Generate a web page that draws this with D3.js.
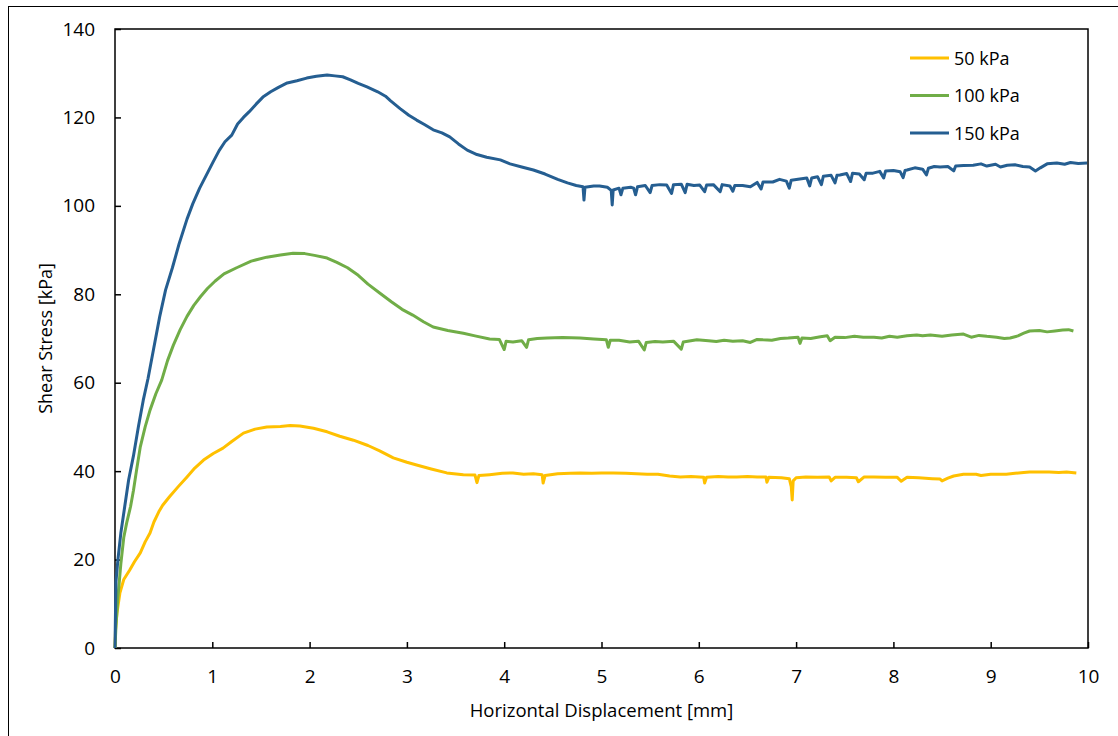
<!DOCTYPE html>
<html>
<head>
    <title>Shear stress vs horizontal displacement</title>
    <script src="https://cdnjs.cloudflare.com/ajax/libs/d3/7.8.5/d3.min.js"></script>
    <style>
        body { margin: 0; background: #fff; }
        text { font-family: 'Open Sans', 'Liberation Sans', sans-serif; fill: #000; }
    </style>
</head>
<body>
<div id="chart"></div>
<script>
//------------------------------------DATA--------------------------------
var seriesNames = ["50 kPa", "100 kPa", "150 kPa"];
var seriesColors = ["#FFC000", "#70AD47", "#255E91"];
var xTicks = [0, 1, 2, 3, 4, 5, 6, 7, 8, 9, 10];
var yTicks = [0, 20, 40, 60, 80, 100, 120, 140];

// 50 kPa  [displacement mm, shear stress kPa]
var s50 = [
 [0,0],[0.005,4],[0.02,7.9],[0.05,12.4],[0.09,15.5],[0.15,17.6],[0.2,19.5],[0.26,21.5],[0.31,24],[0.36,26],
 [0.4,28.5],[0.45,30.8],[0.49,32.3],[0.56,34.2],[0.65,36.5],[0.74,38.7],[0.82,40.7],[0.91,42.5],[1.01,44],[1.11,45.2],[1.2,46.7],
 [1.32,48.6],[1.44,49.5],[1.56,50],[1.7,50.1],[1.8,50.3],[1.9,50.2],[2.04,49.7],[2.18,48.9],[2.31,47.9],[2.45,47],
 [2.6,45.8],[2.72,44.6],[2.86,43],[3,42],[3.1,41.4],[3.25,40.5],[3.41,39.6],[3.58,39.2],[3.7,39.1],[3.72,37.4],
 [3.74,39],[3.85,39.2],[3.98,39.5],[4.09,39.6],[4.2,39.3],[4.3,39.4],[4.39,39.2],[4.4,37.3],[4.42,39],[4.55,39.4],
 [4.68,39.5],[4.78,39.6],[4.9,39.5],[5,39.6],[5.12,39.6],[5.25,39.5],[5.36,39.4],[5.47,39.3],[5.58,39.3],[5.7,38.9],
 [5.81,38.7],[5.92,38.8],[6.05,38.6],[6.06,37.3],[6.08,38.6],[6.2,38.8],[6.3,38.7],[6.39,38.7],[6.5,38.8],[6.6,38.7],
 [6.69,38.7],[6.7,37.5],[6.72,38.6],[6.85,38.5],[6.93,38.3],[6.95,36.5],[6.96,33.5],[6.97,37.8],[7,38.5],[7.1,38.7],
 [7.22,38.6],[7.34,38.7],[7.36,37.8],[7.4,38.6],[7.52,38.6],[7.62,38.5],[7.64,37.6],[7.7,38.7],[7.8,38.7],[7.92,38.6],
 [8.04,38.6],[8.08,37.7],[8.14,38.6],[8.26,38.5],[8.4,38.3],[8.48,38.2],[8.5,37.8],[8.56,38.4],[8.62,38.9],[8.72,39.3],
 [8.85,39.3],[8.9,39],[9,39.3],[9.06,39.3],[9.16,39.3],[9.25,39.5],[9.34,39.7],[9.4,39.8],[9.5,39.8],[9.6,39.8],
 [9.7,39.7],[9.78,39.8],[9.88,39.6]
];

// 100 kPa
var s100 = [
 [0,0],[0.01,5],[0.03,11.5],[0.06,19],[0.09,25],[0.12,28.3],[0.16,32],[0.19,35.7],[0.22,40],[0.26,45.5],
 [0.31,50],[0.36,53.8],[0.42,57.5],[0.48,60.6],[0.54,65],[0.6,68.5],[0.67,72],[0.74,75],[0.81,77.5],[0.88,79.5],
 [0.95,81.3],[1.03,83],[1.12,84.6],[1.25,86],[1.4,87.5],[1.56,88.4],[1.7,88.9],[1.83,89.3],[1.95,89.2],[2.05,88.8],
 [2.18,88.2],[2.28,87.2],[2.39,86],[2.5,84.3],[2.6,82.3],[2.72,80.3],[2.84,78.3],[2.95,76.6],[3.06,75.3],[3.17,73.8],
 [3.27,72.6],[3.42,71.8],[3.58,71.2],[3.7,70.6],[3.85,69.9],[3.95,69.8],[4,67.5],[4.02,69.4],[4.09,69.2],[4.18,69.5],
 [4.23,68],[4.25,69.7],[4.34,70],[4.44,70.1],[4.6,70.2],[4.78,70.1],[4.92,69.9],[5.05,69.7],[5.07,68],[5.09,69.6],
 [5.18,69.6],[5.29,69.2],[5.38,69.4],[5.44,67.4],[5.46,69.1],[5.55,69.3],[5.63,69.2],[5.74,69.4],[5.82,67.6],[5.84,69.2],
 [5.98,69.7],[6.1,69.5],[6.18,69.3],[6.26,69.6],[6.35,69.4],[6.45,69.5],[6.53,69.1],[6.6,69.8],[6.66,69.7],[6.75,69.6],
 [6.84,70],[6.92,70.1],[7.02,70.3],[7.04,68.9],[7.06,70.1],[7.15,70],[7.25,70.4],[7.32,70.6],[7.35,69.5],[7.4,70.3],
 [7.5,70.2],[7.6,70.5],[7.69,70.3],[7.8,70.3],[7.88,70.1],[7.96,70.5],[8.04,70.3],[8.14,70.6],[8.24,70.8],[8.3,70.6],
 [8.38,70.8],[8.5,70.5],[8.6,70.8],[8.72,71],[8.8,70.3],[8.88,70.7],[8.96,70.5],[9.06,70.3],[9.14,70],[9.2,70.1],
 [9.28,70.6],[9.34,71.2],[9.4,71.7],[9.5,71.8],[9.58,71.5],[9.66,71.7],[9.74,71.9],[9.8,72],[9.85,71.7]
];

// 150 kPa
var s150 = [
 [0,0],[0.005,8],[0.01,15],[0.03,20],[0.06,26],[0.1,32],[0.14,38],[0.19,43.5],[0.24,50],[0.29,56],
 [0.34,61],[0.4,68],[0.46,75],[0.52,81],[0.59,86],[0.66,91.5],[0.74,97],[0.8,100.5],[0.87,104],[0.94,107],
 [1.01,110],[1.07,112.5],[1.13,114.5],[1.2,116],[1.26,118.5],[1.32,120],[1.38,121.3],[1.45,123],[1.52,124.6],[1.6,125.8],
 [1.68,126.8],[1.77,127.8],[1.87,128.3],[1.97,128.9],[2.07,129.3],[2.18,129.6],[2.26,129.4],[2.34,129.2],[2.42,128.5],[2.5,127.7],
 [2.59,126.9],[2.7,125.8],[2.78,124.8],[2.83,123.8],[2.93,122],[3.02,120.5],[3.1,119.4],[3.18,118.4],[3.27,117.2],[3.36,116.5],
 [3.44,115.6],[3.53,114],[3.62,112.6],[3.72,111.6],[3.82,111],[3.96,110.4],[4.06,109.5],[4.18,108.8],[4.3,108.1],[4.42,107.2],
 [4.55,106],[4.65,105.2],[4.74,104.6],[4.81,104.3],[4.82,101.3],[4.83,104.2],[4.92,104.5],[4.98,104.5],[5.06,104.2],[5.1,103.5],
 [5.11,100.2],[5.12,103.6],[5.18,104],[5.2,102.5],[5.22,104],[5.3,104.2],[5.33,104],[5.35,102.5],[5.37,104.3],[5.45,104.6],
 [5.5,103],[5.52,104.6],[5.6,104.8],[5.67,104.7],[5.72,102.8],[5.74,104.8],[5.82,104.9],[5.86,103],[5.88,104.9],[5.95,104.6],
 [6.01,104.7],[6.06,103.2],[6.08,104.7],[6.15,104.8],[6.22,103.2],[6.24,104.8],[6.32,104.5],[6.35,103.3],[6.37,104.6],[6.45,104.6],
 [6.53,104.3],[6.6,105.3],[6.64,103.8],[6.66,105.4],[6.76,105.4],[6.83,106],[6.9,105.6],[6.93,104],[6.95,105.8],[7.02,106],
 [7.11,106.3],[7.14,104.5],[7.16,106.3],[7.22,106.6],[7.26,104.8],[7.28,106.7],[7.36,106.9],[7.4,105.2],[7.42,106.9],[7.45,107],
 [7.52,107.3],[7.56,105.5],[7.58,107.4],[7.65,107.2],[7.7,105.9],[7.72,107.4],[7.79,107.4],[7.86,107.8],[7.9,106.3],[7.92,107.9],
 [8,108],[8.07,107.7],[8.1,106.4],[8.12,108],[8.14,108.1],[8.22,108.6],[8.3,108.3],[8.34,107],[8.36,108.5],[8.42,108.9],
 [8.48,108.8],[8.56,108.9],[8.62,107.9],[8.64,109],[8.72,109.1],[8.82,109.2],[8.9,109.5],[8.96,109],[9.05,109.4],[9.1,108.8],
 [9.17,109.2],[9.25,109.3],[9.33,108.9],[9.4,108.8],[9.46,107.9],[9.51,108.6],[9.58,109.5],[9.68,109.7],[9.76,109.4],[9.82,109.8],
 [9.9,109.6],[9.99,109.7]
];
var seriesData = [s50, s100, s150];

//------------------------------------MAKES THE BOX--------------------------
var W = 1118, H = 736;
var margin = { top: 29, right: 30, bottom: 88, left: 115 },
    width = 1088 - margin.left,
    height = 648 - margin.top;

var svg = d3.select("#chart").append("svg")
    .attr("width", W)
    .attr("height", H);

// outer chart border
svg.append("rect")
    .attr("x", 8.5).attr("y", 6.5)
    .attr("width", W + 20).attr("height", H + 20)
    .attr("fill", "none")
    .attr("stroke", "#000")
    .attr("stroke-width", 1);

var g = svg.append("g")
    .attr("transform", "translate(" + margin.left + "," + margin.top + ")");

//------------------------------------MAKES THE AXES--------------------------
var x = d3.scaleLinear().domain([0, 10]).range([0, width]);
var y = d3.scaleLinear().domain([0, 140]).range([height, 0]);

var xAxis = g.append("g")
    .attr("transform", "translate(0," + height + ")")
    .call(d3.axisBottom(x).tickValues(xTicks).tickSizeInner(-6).tickSizeOuter(0).tickPadding(22).tickFormat(d3.format("d")));
var yAxis = g.append("g")
    .call(d3.axisLeft(y).tickValues(yTicks).tickSizeInner(-6).tickSizeOuter(0).tickPadding(20).tickFormat(d3.format("d")));

[xAxis, yAxis].forEach(function (a) {
    a.select(".domain").remove();
    a.selectAll(".tick line").attr("stroke", "#000").attr("stroke-width", 1.5);
    a.selectAll(".tick text")
        .style("font-family", "'Open Sans', sans-serif")
        .style("font-size", "19px");
});

// plot frame
g.append("rect")
    .attr("x", 0).attr("y", 0)
    .attr("width", width).attr("height", height)
    .attr("fill", "none")
    .attr("stroke", "#000")
    .attr("stroke-width", 1.5);

//------------------------------------MAKES THE LINES--------------------------------
var line = d3.line()
    .x(function (d) { return x(d[0]); })
    .y(function (d) { return y(d[1]); });

g.selectAll(".series")
    .data(seriesData)
    .enter()
    .append("path")
    .attr("class", "series")
    .attr("d", line)
    .attr("fill", "none")
    .attr("stroke", function (d, i) { return seriesColors[i]; })
    .attr("stroke-width", 3)
    .attr("stroke-linejoin", "round");

//------------------------------------MAKES LABELS--------------------------------
svg.append("text")
    .attr("x", margin.left + width / 2)
    .attr("y", 717)
    .attr("text-anchor", "middle")
    .style("font-size", "18.5px")
    .text("Horizontal Displacement [mm]");

svg.append("text")
    .attr("transform", "translate(52," + (margin.top + height / 2) + ") rotate(-90)")
    .attr("text-anchor", "middle")
    .style("font-size", "18px")
    .text("Shear Stress [kPa]");

// legend
var legend = svg.selectAll(".legend")
    .data(seriesNames)
    .enter()
    .append("g")
    .attr("class", "legend")
    .attr("transform", function (d, i) { return "translate(910," + (58 + i * 37.5) + ")"; });

legend.append("line")
    .attr("x1", 0).attr("x2", 39)
    .attr("y1", 0).attr("y2", 0)
    .attr("stroke", function (d, i) { return seriesColors[i]; })
    .attr("stroke-width", 3);

legend.append("text")
    .attr("x", 44)
    .attr("y", 6.5)
    .style("font-size", "18px")
    .text(function (d) { return d; });
</script>
</body>
</html>
